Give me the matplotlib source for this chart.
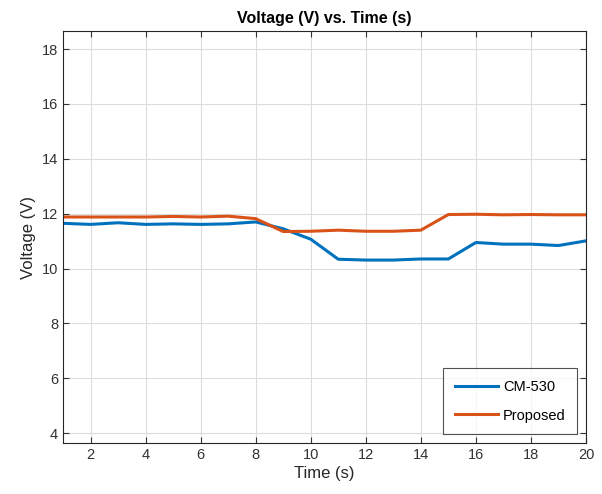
import matplotlib
matplotlib.use("Agg")
import matplotlib.pyplot as plt

plt.rcParams['font.family'] = ['Liberation Sans', 'DejaVu Sans']

time = list(range(1, 21))
cm530 = [11.65, 11.61, 11.67, 11.61, 11.63, 11.61, 11.63, 11.70, 11.45, 11.07,
         10.34, 10.31, 10.31, 10.35, 10.35, 10.95, 10.89, 10.89, 10.84, 11.01]
proposed = [11.88, 11.88, 11.88, 11.88, 11.90, 11.88, 11.91, 11.82, 11.35, 11.36,
            11.40, 11.36, 11.36, 11.40, 11.97, 11.98, 11.96, 11.97, 11.96, 11.96]
series_names = ["CM-530", "Proposed"]

fig = plt.figure(figsize=(6.02, 4.94), dpi=100)
ax = fig.add_axes([0.1047, 0.1032, 0.8687, 0.834])

ax.plot(time, cm530, color="#0072BD", lw=2.2, label=series_names[0])
ax.plot(time, proposed, color="#D95319", lw=2.2, label=series_names[1])

ax.set_xlim(1, 20)
ax.set_ylim(3.64, 18.66)
ax.set_xticks(range(2, 21, 2))
ax.set_yticks(range(4, 19, 2))
ax.grid(True, color="#dcdcdc", lw=0.8)
ax.set_axisbelow(True)
ax.tick_params(direction="in", top=True, right=True, labelsize=10.5,
               colors="#333333", length=4)
for s in ax.spines.values():
    s.set_color("#262626")
    s.set_linewidth(0.8)

ax.set_xlabel("Time (s)", fontsize=12, color="#262626", labelpad=3)
ax.set_ylabel("Voltage (V)", fontsize=12, color="#262626", labelpad=4)
ax.set_title("Voltage (V) vs. Time (s)", fontsize=11.5, fontweight="bold", pad=6)

leg = ax.legend(loc="lower right", fontsize=10.5, frameon=True, fancybox=False,
                edgecolor="#262626", handlelength=3.0, handletextpad=0.3,
                borderpad=0.8, labelspacing=1.0, borderaxespad=0.6)
leg.get_frame().set_linewidth(0.8)

fig.savefig("out.png", dpi=100)
